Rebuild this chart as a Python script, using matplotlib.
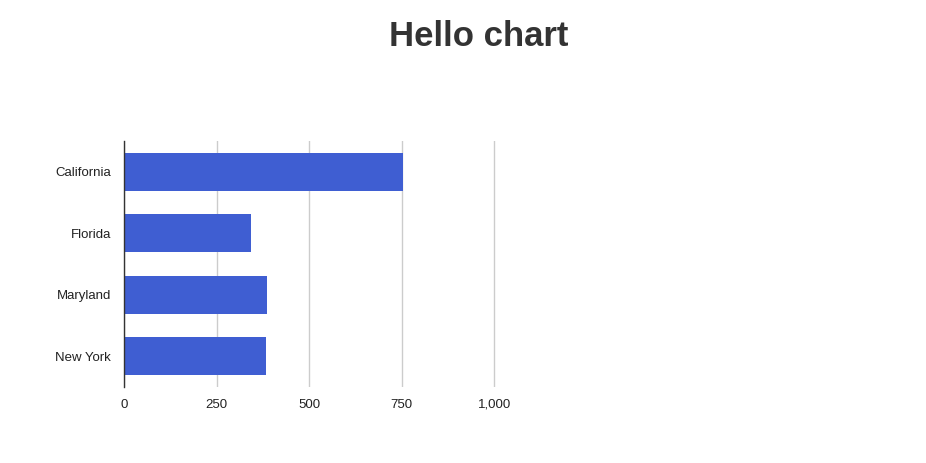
import matplotlib
matplotlib.use("Agg")
import matplotlib.pyplot as plt

states = ["California", "Florida", "Maryland", "New York"]
values = [752, 342, 386, 383]
xticks = [0, 250, 500, 750, 1000]
xtick_labels = ["0", "250", "500", "750", "1,000"]

plt.rcParams['font.family'] = ['Liberation Sans', 'DejaVu Sans']

fig = plt.figure(figsize=(9.26, 4.63), dpi=100)
# a little room past 1,000 so the last gridline is not clipped
xmax = 1010
ax = fig.add_axes([124.3 / 926, 76 / 463, 370 * xmax / 1000 / 926, 246 / 463])

ypos = list(range(len(states)))
ax.barh(ypos, values, height=0.62, color='#3f5ed2', zorder=3)
ax.set_ylim(len(states) - 0.5, -0.5)
ax.set_xlim(0, xmax)
ax.set_yticks(ypos)
ax.set_yticklabels(states)
ax.set_xticks(xticks)
ax.set_xticklabels(xtick_labels, va='baseline')

ax.grid(axis='x', color='#cccccc', linewidth=1, zorder=0)
for side in ['top', 'right', 'bottom']:
    ax.spines[side].set_visible(False)
ax.spines['left'].set_color('#333333')
ax.spines['left'].set_linewidth(1)
ax.spines['left'].set_zorder(4)
ax.tick_params(axis='both', length=0, labelsize=9.5, labelcolor='#222222')
ax.tick_params(axis='y', pad=9.5)
ax.tick_params(axis='x', pad=15)

fig.text(479 / 926, 1 - 37 / 463, "Hello chart", ha='center', va='center',
         fontsize=25, fontweight='bold', color='#333333')

fig.savefig("out.png", dpi=100, facecolor='white')
